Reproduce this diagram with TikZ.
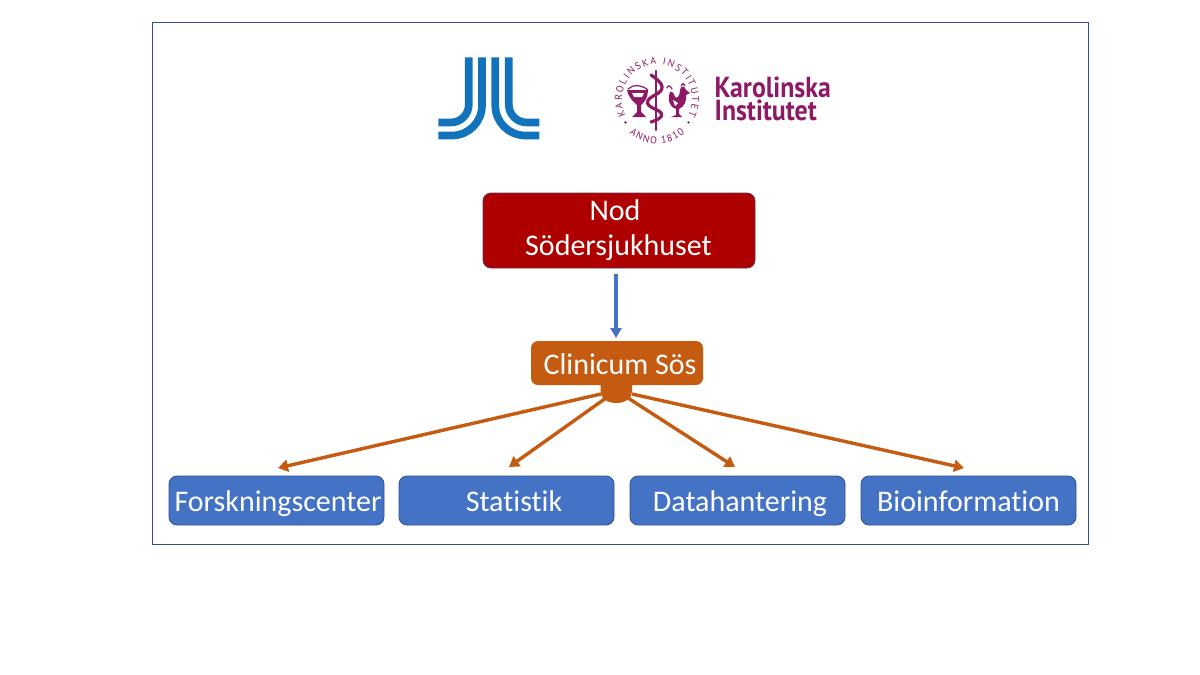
\documentclass[tikz,border=0pt]{standalone}
\usepackage{fontspec}
\usetikzlibrary{arrows.meta,decorations.text}
\setmainfont[Ligatures=CommonOff]{Carlito}
\newfontfamily\kifont{PT Sans}
\newfontfamily\sealfont{PT Sans}
\definecolor{fjl}{HTML}{1173BB}
\definecolor{ki}{HTML}{8E1A66}
\definecolor{nodred}{HTML}{AE0000}
\definecolor{orng}{HTML}{C55A11}
\definecolor{boxblue}{HTML}{4472C4}
\definecolor{edgeblue}{HTML}{2F528F}
\tikzset{
  frame/.style={draw=edgeblue,line width=0.7pt,fill=white},
  boxbase/.style={rounded corners=8pt,text=white,font=\fontsize{30}{36}\selectfont,align=center,inner sep=0pt,line width=0.8pt,text height=28pt,text depth=6pt},
  nodbox/.style={boxbase,draw=edgeblue!60!nodred,fill=nodred,minimum width=272pt,minimum height=75pt},
  nodtext/.style={text=white,font=\fontsize{30}{35.5}\selectfont,align=center,inner sep=0pt},
  clinbox/.style={boxbase,fill=orng,minimum width=172pt,minimum height=44pt,rounded corners=7pt},
  unitbox/.style={boxbase,draw=edgeblue,fill=boxblue,minimum width=215pt,minimum height=49pt},
  orarrow/.style={draw=orng,line width=3.4pt,-{Triangle[length=10pt,width=12pt]}},
  bluearrow/.style={draw=boxblue,line width=3.2pt,-{Triangle[length=10pt,width=11pt]}},
  jlline/.style={draw=fjl,line width=7.7pt,line cap=butt},
  kitext/.style={text=ki,inner sep=0pt,anchor=west,xscale=0.89,font=\kifont\bfseries\fontsize{29}{29}\selectfont},
  sealtxt/.style={decorate,decoration={text along path,text align=fit to path,text={|\sealfont\fontsize{10}{10}\selectfont\color{ki}|#1}}},
  emb/.style={draw=ki,line width=1.5pt,line cap=round,line join=round}
}
\begin{document}
\begin{tikzpicture}[x=1pt,y=-1pt]
\useasboundingbox (0,0) rectangle (1200,675);
\fill[white] (0,0) rectangle (1200,675);
\draw[frame] (152.5,22.5) rectangle (1088.5,544);
% JL logo
\draw[jlline,rounded corners=18pt] (468.8,57.3) -- (468.8,122.5) -- (438.3,122.5);
\draw[jlline,rounded corners=30pt] (482,57.3) -- (482,135.5) -- (438.3,135.5);
\draw[jlline,rounded corners=30pt] (495.3,57.3) -- (495.3,135.5) -- (539.3,135.5);
\draw[jlline,rounded corners=18pt] (508.8,57.3) -- (508.8,122.5) -- (539.3,122.5);
% KI seal
\begin{scope}[shift={(657,99.5)},x=1pt,y=1pt]
\path[sealtxt={KAROLINSKA INSTITUTET}] (207:35) arc[start angle=207,end angle=-27,radius=35];
\path[sealtxt={ANNO 1810}] (231:44) arc[start angle=231,end angle=309,radius=44];
\fill[ki] (216:39) circle (1.3pt);
\fill[ki] (-36:39) circle (1.3pt);
\end{scope}
% staff and serpent
\draw[emb,line width=2.2pt] (656,71) -- (656,130);
\draw[emb,line width=3.2pt] (651,75) .. controls (665,84) and (665,90) .. (655,95) .. controls (645,100) and (645,105) .. (655,109) .. controls (665,113) and (664,118) .. (651,122);
% bowl
\fill[ki] (627,90) .. controls (629,99) and (635,103) .. (637,105) -- (637,112) -- (632,117) -- (646,117) -- (641,112) -- (641,105) .. controls (645,102) and (648,97) .. (648,90) -- cycle;
\fill[white] (632,93) -- (644,93) -- (642,97) -- (634,97) -- cycle;
\draw[emb,line width=1.2pt] (628,89) .. controls (633,84) and (642,85) .. (648,90);
% rooster
\fill[ki] (670,92) .. controls (667,100) and (670,108) .. (676,109) -- (676,115) -- (671,117) -- (682,117) -- (679,114) -- (679,109) .. controls (684,107) and (687,101) .. (686,95) -- (690,93) -- (686,90) .. controls (685,85) and (680,86) .. (680,90) .. controls (680,96) and (677,99) .. (675,97) .. controls (674,94) and (673,91) .. (670,92) -- cycle;
\draw[emb,line width=1.2pt] (681,86) -- (683,83.5) -- (685,86);
\draw[emb,line width=1.2pt] (672,89) .. controls (670,85) and (668,85) .. (667,88);
\fill[white] (673,100) -- (678,103) -- (675,106) -- cycle;
% KI wordmark
\node[kitext] (kione) at (714.5,87.5) {Karolinska};
\node[kitext] (kitwo) at (714.5,110.5) {Institutet};
% boxes
\node[nodbox] (nod) at (619,230.5) {};
\node[nodtext] (nodl) at (618.5,230) {\hspace*{-7pt}Nod\\Södersjukhuset};
\fill[orng] (600.7,380) -- (632,380) -- (632,392) .. controls (632,399) and (624,403) .. (616.3,403) .. controls (608,403) and (600.7,399) .. (600.7,392) -- cycle;
\node[clinbox] (clin) at (617,363) {\hspace*{6pt}Clinicum Sös};
\node[unitbox] (u1) at (276.5,500.5) {\hspace*{3pt}Forskningscenter};
\node[unitbox] (u2) at (506.5,500.5) {\hspace*{15pt}Statistik};
\node[unitbox] (u3) at (737.5,500.5) {\hspace*{5pt}Datahantering};
\node[unitbox] (u4) at (968.5,500.5) {Bioinformation};
% connector ends
\coordinate (nodout) at (616,274);
\coordinate (clinin) at (616,338);
\coordinate (b1) at (601,394);
\coordinate (b2) at (606,398);
\coordinate (b3) at (628,398);
\coordinate (b4) at (632,394);
\coordinate (t1) at (278,468);
\coordinate (t2) at (509,467);
\coordinate (t3) at (735,467);
\coordinate (t4) at (964,468);
\draw[bluearrow] (nodout) -- (clinin);
\draw[orarrow] (b1) -- (t1);
\draw[orarrow] (b2) -- (t2);
\draw[orarrow] (b3) -- (t3);
\draw[orarrow] (b4) -- (t4);
\end{tikzpicture}
\end{document}
